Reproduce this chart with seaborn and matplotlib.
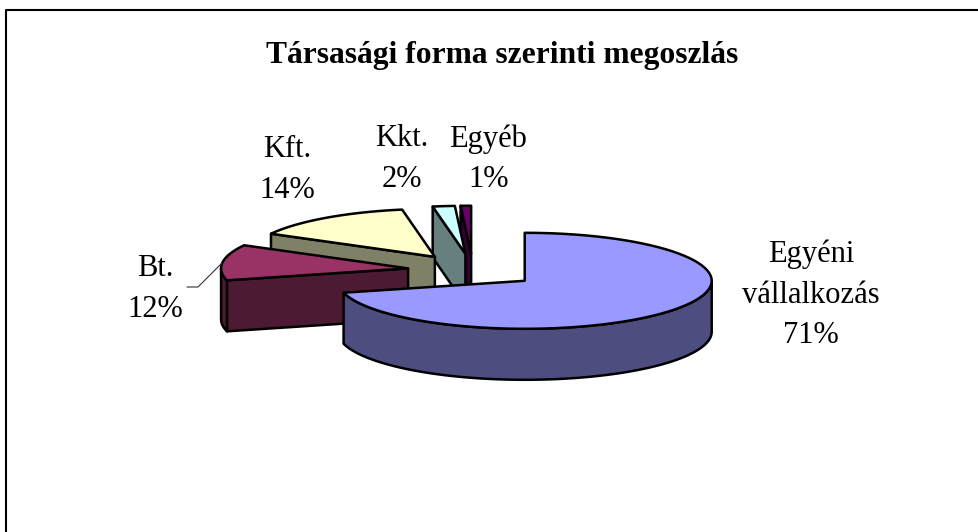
import numpy as np
import matplotlib
matplotlib.use("Agg")
import matplotlib.pyplot as plt
from matplotlib.lines import Line2D
import seaborn as sns

# Chart data
categories = ["Egyéni\nvállalkozás", "Bt.", "Kft.", "Kkt.", "Egyéb"]
shares = [71.0, 12.0, 14.2, 1.9, 0.9]
share_labels = ["71%", "12%", "14%", "2%", "1%"]
title = "Társasági forma szerinti megoszlás"
top_colors = ["#9999FF", "#993366", "#FFFFCC", "#CCFFFF", "#660066"]

W, H = 979, 532
RX, RY = 187, 48      # ellipse radii in pixels
CX, CY = 473, 270.5   # centre of the unexploded pie in pixels
DEPTH = 51 / RY
EXPLODE = 0.35
EDGE = 1.8

sns.set_theme(style="white")
plt.rcParams["font.family"] = ["Liberation Serif", "DejaVu Serif"]
palette = sns.color_palette(top_colors)

fig = plt.figure(figsize=(W / 100, H / 100), dpi=100, facecolor="white")
ax = fig.add_axes([0, 0, 1, 1])
ax.set_xlim(-CX / RX, (W - CX) / RX)
ax.set_ylim((CY - H) / RY, CY / RY)
ax.axis("off")


def px(x, y):
    return x / W, 1 - y / H


def shade(color):
    return tuple(c * 0.5 for c in color)


def arc(cx, cy, a0, a1, drop=0.0):
    t = np.radians(np.linspace(a0, a1, 80))
    return cx + np.sin(t), cy + np.cos(t) - drop


edges = np.cumsum([0] + shares) / sum(shares) * 360

# back slices first, the big one goes on top
for i in reversed(range(len(shares))):
    a0, a1 = edges[i], edges[i + 1]
    mid = np.radians((a0 + a1) / 2)
    cx, cy = EXPLODE * np.sin(mid), EXPLODE * np.cos(mid)
    kw = dict(edgecolor="black", linewidth=EDGE, joinstyle="round", zorder=i * -1 + 10)

    # cut face on the start side
    sx, sy = cx + np.sin(np.radians(a0)), cy + np.cos(np.radians(a0))
    ax.fill([cx, sx, sx, cx], [cy, sy, sy - DEPTH, cy - DEPTH],
            facecolor=shade(palette[i]), **kw)

    # rim, only the part that faces the viewer
    lo, hi = max(a0, 90), min(a1, 270)
    if lo < hi:
        xa, ya = arc(cx, cy, lo, hi)
        xb, yb = arc(cx, cy, hi, lo, DEPTH)
        ax.fill(np.r_[xa, xb], np.r_[ya, yb], facecolor=shade(palette[i]), **kw)

    # top
    xt, yt = arc(cx, cy, a0, a1)
    ax.fill(np.r_[cx, xt], np.r_[cy, yt], facecolor=palette[i], **kw)

fig.text(*px(502, 56), title, ha="center", va="center", fontsize=22.7,
         fontweight="bold", color="black")

label_xy = [(811, 295), (155, 289), (287.5, 170), (402, 159), (488.5, 159)]
for name, pct, (x, y) in zip(categories, share_labels, label_xy):
    fig.text(*px(x, y), f"{name}\n{pct}", ha="center", va="center", fontsize=22,
             linespacing=1.52, color="black")

# leader line for Bt.
xs, ys = zip(px(187, 287), px(198, 287), px(222, 263))
fig.add_artist(Line2D(xs, ys, color="#333333", linewidth=0.8))

# frame, only top and left are in the picture
xs, ys = zip(px(6.5, H), px(6.5, 9.5), px(W, 9.5))
fig.add_artist(Line2D(xs, ys, color="black", linewidth=1.5))

fig.savefig("out.png", dpi=100)
